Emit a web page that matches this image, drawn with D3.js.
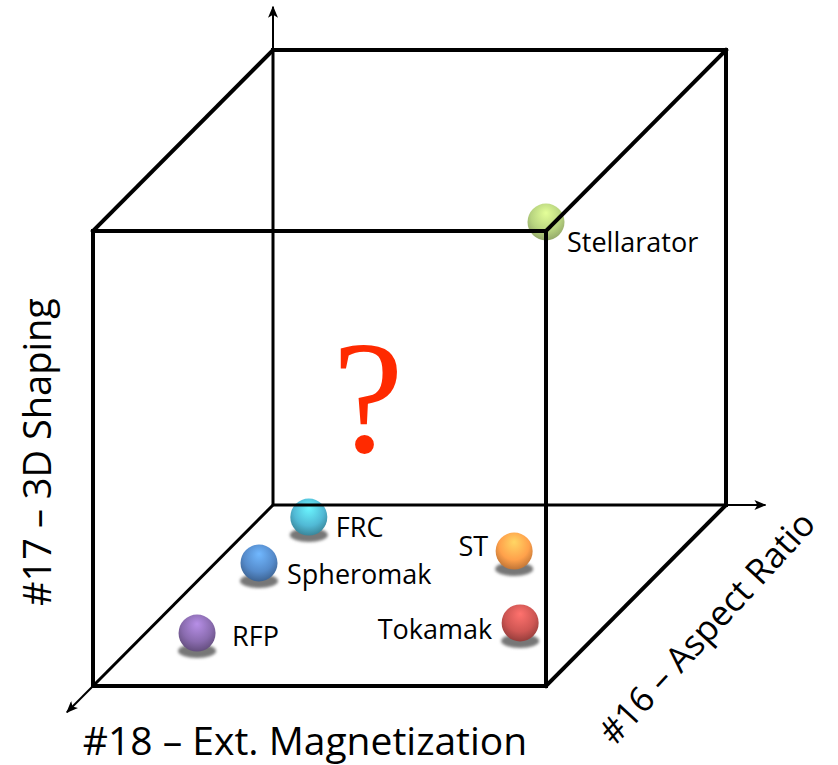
<!DOCTYPE html>
<html>
<head>
<meta charset="utf-8">
<script src="https://cdn.jsdelivr.net/npm/d3@7"></script>
<style>
  body { margin: 0; background: #fff; }
  text { font-family: "Open Sans", "Noto Sans", sans-serif; fill: #000; }
</style>
</head>
<body>
<script>
var width = 838;
var height = 765;

// concepts, placed in the unit cube: aspect ratio (x), 3D shaping (y), ext. magnetization (z)
var concepts = ["Stellarator", "FRC", "Spheromak", "RFP", "ST", "Tokamak"];
var aspectRatio = [1.0, 0.145, 0.136, 0.153, 0.673, 0.844];
var shaping3D = [1.0, 0, 0, 0, 0, 0];
var magnetization = [1.0, 0.166, 0.42, 0.807, 0.354, 0.751];
var baseColors = ["#9bbb59", "#4bacc6", "#4f81bd", "#8064a2", "#f79646", "#c0504d"];

var axisLabels = ["#16 – Aspect Ratio", "#17 – 3D Shaping", "#18 – Ext. Magnetization"];

// label placement around each ball
var labelDx = [21, 27, 28, 35, -26, -28];
var labelDy = [30, 20, 21, 13, 5, 16];
var labelAnchor = ["start", "start", "start", "start", "end", "end"];

var svg = d3.select("body")
  .append("svg")
  .attr("width", width)
  .attr("height", height);

// projection of the cube
var xScale = d3.scaleLinear().domain([0, 1]).range([273, 726]);
var yScale = d3.scaleLinear().domain([0, 1]).range([505, 50]);
var zxScale = d3.scaleLinear().domain([0, 1]).range([0, -180]);
var zyScale = d3.scaleLinear().domain([0, 1]).range([0, 181]);

function proj(x, y, z) {
  return [xScale(x) + zxScale(z), yScale(y) + zyScale(z)];
}

var defs = svg.append("defs");

defs.append("marker")
  .attr("id", "arrow")
  .attr("viewBox", "0 0 12 10")
  .attr("refX", 11)
  .attr("refY", 5)
  .attr("markerWidth", 12)
  .attr("markerHeight", 10)
  .attr("markerUnits", "userSpaceOnUse")
  .attr("orient", "auto")
  .append("path")
  .attr("d", "M0,0 L12,5 L0,10 L3,5 Z")
  .attr("fill", "#000");

var blur = defs.append("filter").attr("id", "blur")
  .attr("x", "-50%").attr("y", "-100%").attr("width", "200%").attr("height", "300%");
blur.append("feGaussianBlur").attr("stdDeviation", 1.4);

baseColors.forEach(function(c, i) {
  var g = defs.append("radialGradient")
    .attr("id", "ball" + i)
    .attr("cx", "50%").attr("cy", "38%").attr("r", "62%")
    .attr("fx", "50%").attr("fy", "25%");
  g.append("stop").attr("offset", "0%").attr("stop-color", d3.color(c).brighter(1.0));
  g.append("stop").attr("offset", "65%").attr("stop-color", d3.color(c).brighter(0.2));
  g.append("stop").attr("offset", "100%").attr("stop-color", d3.color(c).darker(0.7));
});

var lines = svg.append("g");

// hidden back edges and axes
var back = [
  [[0, 0, 0], [1, 0, 0]],
  [[0, 0, 0], [0, 1, 0]],
  [[0, 0, 0], [0, 0, 1]]
];
back.forEach(function(e) {
  var a = proj.apply(null, e[0]), b = proj.apply(null, e[1]);
  lines.append("line")
    .attr("x1", a[0]).attr("y1", a[1]).attr("x2", b[0]).attr("y2", b[1])
    .attr("stroke", "#000").attr("stroke-width", 3);
});

// axis arrows leaving the cube
var arrows = [
  [[0, 1, 0], [0, 1.095, 0]],
  [[1, 0, 0], [1.087, 0, 0]],
  [[0, 0, 1], [0, 0, 1.145]]
];
arrows.forEach(function(e) {
  var a = proj.apply(null, e[0]), b = proj.apply(null, e[1]);
  lines.append("line")
    .attr("x1", a[0]).attr("y1", a[1]).attr("x2", b[0]).attr("y2", b[1])
    .attr("stroke", "#000").attr("stroke-width", 2)
    .attr("marker-end", "url(#arrow)");
});

// visible edges
var front = [
  [[0, 1, 0], [1, 1, 0]],
  [[1, 1, 0], [1, 0, 0]],
  [[0, 1, 0], [0, 1, 1]],
  [[1, 1, 0], [1, 1, 1]],
  [[1, 0, 0], [1, 0, 1]],
  [[0, 1, 1], [1, 1, 1]],
  [[0, 0, 1], [1, 0, 1]],
  [[0, 1, 1], [0, 0, 1]],
  [[1, 1, 1], [1, 0, 1]]
];
front.forEach(function(e) {
  var a = proj.apply(null, e[0]), b = proj.apply(null, e[1]);
  lines.append("line")
    .attr("x1", a[0]).attr("y1", a[1]).attr("x2", b[0]).attr("y2", b[1])
    .attr("stroke", "#000").attr("stroke-width", 4)
    .attr("stroke-linecap", "square");
});

var data = concepts.map(function(name, i) {
  var p = proj(aspectRatio[i], shaping3D[i], magnetization[i]);
  return { name: name, i: i, x: p[0], y: p[1], floor: shaping3D[i] === 0 };
});

var balls = svg.append("g");

balls.selectAll("ellipse")
  .data(data.filter(function(d) { return d.floor; }))
  .enter()
  .append("ellipse")
  .attr("cx", function(d) { return d.x; })
  .attr("cy", function(d) { return d.y; })
  .attr("rx", 19)
  .attr("ry", 7)
  .attr("fill", "#777")
  .attr("filter", "url(#blur)");

balls.selectAll("circle")
  .data(data)
  .enter()
  .append("circle")
  .attr("cx", function(d) { return d.x; })
  .attr("cy", function(d) { return d.floor ? d.y - 18 : d.y - 9; })
  .attr("r", 18.5)
  .attr("fill", function(d) { return "url(#ball" + d.i + ")"; })
  .attr("opacity", function(d) { return d.floor ? 1 : 0.8; });

// stellarator ball sits behind the edges
balls.lower();

balls.selectAll("text")
  .data(data)
  .enter()
  .append("text")
  .attr("x", function(d) { return d.x + labelDx[d.i]; })
  .attr("y", function(d) { return (d.floor ? d.y - 18 : d.y - 9) + labelDy[d.i]; })
  .attr("text-anchor", function(d) { return labelAnchor[d.i]; })
  .style("font-size", "27px")
  .text(function(d) { return d.name; });

svg.append("text")
  .attr("x", 368)
  .attr("y", 452)
  .attr("text-anchor", "middle")
  .style("font-family", "'Liberation Serif', 'DejaVu Serif', serif")
  .style("font-size", "160px")
  .style("fill", "#ff2a00")
  .text("?");

// axis titles
svg.append("text")
  .attr("transform", "translate(706,627) rotate(-47.5)")
  .attr("text-anchor", "middle")
  .attr("dominant-baseline", "central")
  .style("font-size", "35px")
  .text(axisLabels[0]);

svg.append("text")
  .attr("transform", "translate(36,452) rotate(-90)")
  .attr("text-anchor", "middle")
  .attr("dominant-baseline", "central")
  .style("font-size", "38px")
  .text(axisLabels[1]);

svg.append("text")
  .attr("x", 305)
  .attr("y", 755)
  .attr("text-anchor", "middle")
  .style("font-size", "39px")
  .text(axisLabels[2]);
</script>
</body>
</html>
